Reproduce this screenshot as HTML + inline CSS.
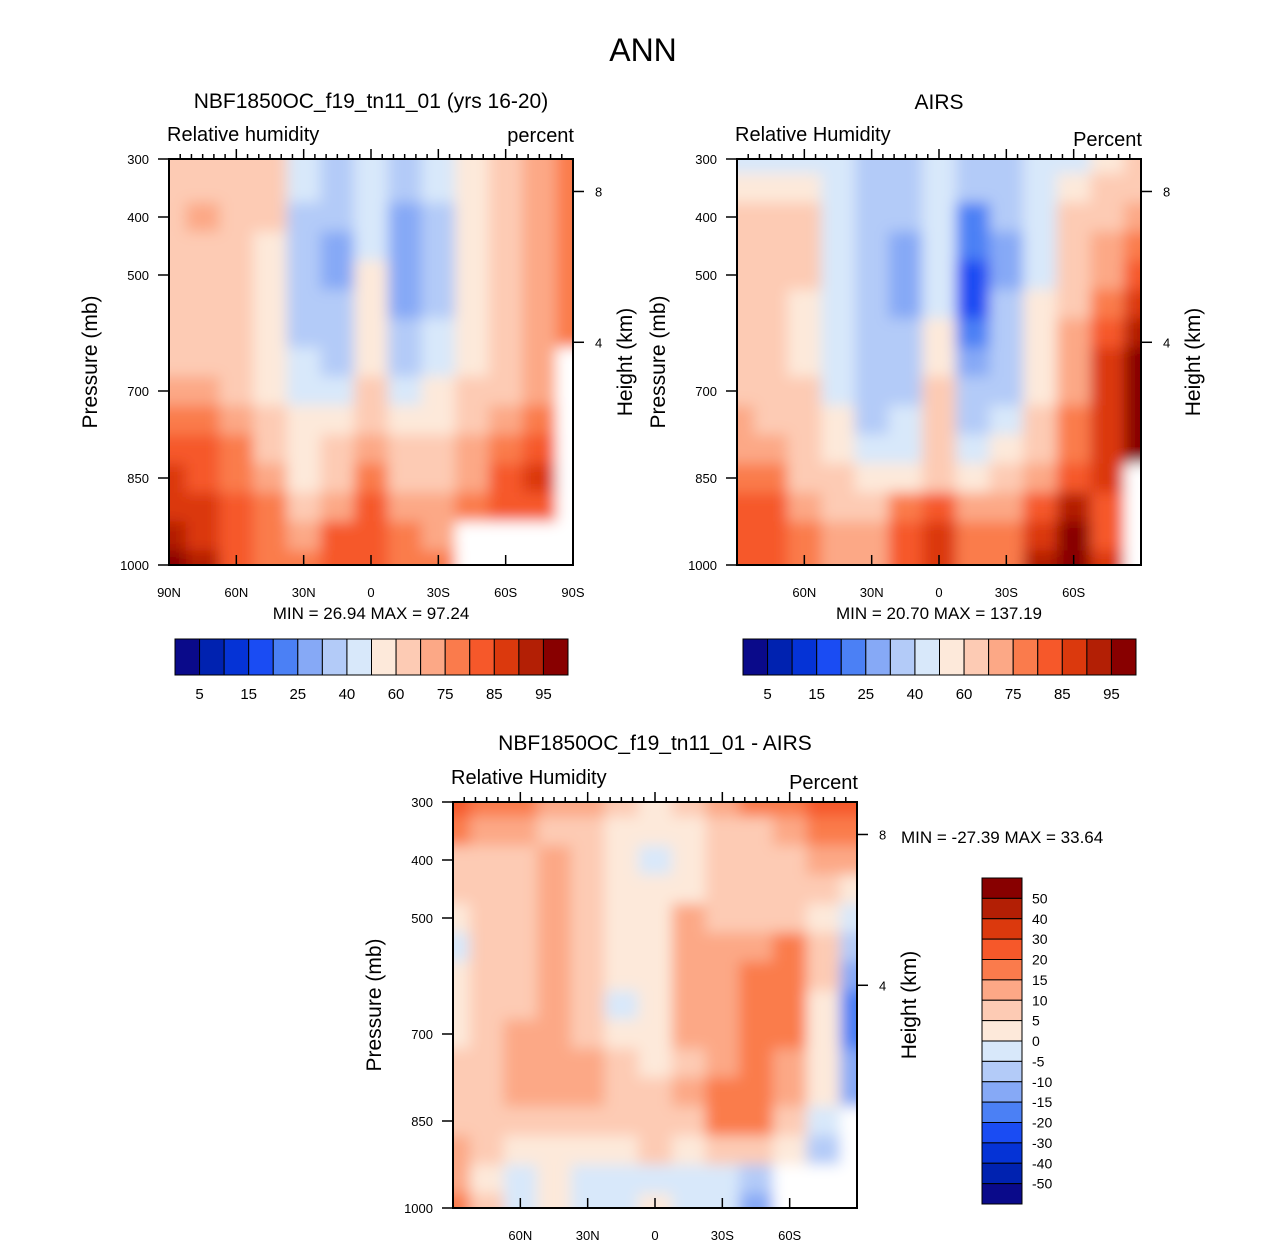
<!DOCTYPE html>
<html><head><meta charset="utf-8"><style>
body{margin:0;background:#fff;}
svg text{font-family:"Liberation Sans",Arial,sans-serif;fill:#000;}
</style></head><body>
<svg id="s" width="1285" height="1247" viewBox="0 0 1285 1247" xmlns="http://www.w3.org/2000/svg">
<defs><filter id="bl" x="-5%" y="-5%" width="110%" height="110%"><feGaussianBlur stdDeviation="7"/></filter></defs>
</svg>
<script>
const lats=[90,75,60,45,30,15,0,-15,-30,-45,-60,-75,-90];
const pressures=[300,350,400,450,500,550,600,650,700,750,800,850,900,950,1000];
const N=NaN;
const modelRH=[
[66,66,64,62,45,38,42,38,45,55,65,72,78],
[66,68,64,62,40,32,42,30,40,55,65,72,78],
[66,72,64,60,38,30,45,28,38,55,65,72,78],
[64,66,63,58,35,28,45,25,38,55,65,72,78],
[64,64,63,58,35,27,50,25,38,55,65,72,78],
[65,64,63,58,35,30,55,28,38,58,65,70,78],
[66,65,63,58,38,32,58,30,40,58,65,70,76],
[68,66,63,56,40,38,58,35,45,58,65,72,N],
[72,72,66,58,45,45,60,45,50,60,68,74,N],
[78,78,72,60,50,55,62,55,55,63,73,78,N],
[82,80,76,66,56,62,70,60,60,70,78,84,N],
[86,84,78,70,58,66,76,66,66,72,82,86,N],
[88,86,80,76,64,74,80,72,70,76,84,80,N],
[92,88,82,78,72,80,84,76,74,N,N,N,N],
[95,90,84,78,75,80,84,78,76,N,N,N,N]];
const airsRH=[
[45,45,42,40,35,38,45,35,38,45,45,55,60],
[58,55,50,45,35,35,42,30,32,42,55,62,65],
[64,64,60,45,35,30,42,22,30,42,60,65,70],
[64,64,60,45,30,25,42,20,28,42,60,70,75],
[64,64,60,45,30,25,45,18,28,45,65,72,80],
[64,62,58,42,30,28,48,18,30,50,68,78,85],
[64,62,58,42,30,30,55,22,32,55,70,80,90],
[64,62,58,42,32,35,58,28,35,58,72,85,95],
[66,64,60,45,35,38,60,32,38,58,72,88,95],
[70,68,62,50,38,42,60,38,45,62,75,88,95],
[74,72,64,56,45,48,62,45,52,65,78,88,95],
[78,76,68,62,56,58,66,56,60,70,84,85,N],
[82,80,74,68,66,76,84,70,70,84,92,80,N],
[84,84,76,72,70,84,88,76,76,88,100,80,N],
[84,84,78,74,74,84,88,76,78,90,100,85,N]];
const diffRH=[
[22,18,15,12,10,5,3,5,10,15,18,22,22],
[15,12,10,8,5,2,2,3,5,8,10,15,15],
[8,8,8,10,5,2,-3,3,5,8,8,10,10],
[5,8,8,12,8,3,2,3,5,8,5,5,3],
[2,5,8,12,8,3,3,10,8,8,5,3,-5],
[-3,5,8,12,8,3,2,10,10,12,15,5,-10],
[0,5,8,12,8,3,1,10,12,15,18,5,-15],
[2,5,8,12,8,-3,1,10,12,15,15,3,-20],
[3,5,10,12,8,3,1,10,12,15,15,3,-20],
[5,5,10,12,10,5,3,8,12,15,12,0,-15],
[8,5,10,10,10,8,8,10,18,18,10,0,-15],
[8,5,8,8,8,8,8,5,15,18,8,-5,N],
[10,5,3,3,3,3,5,3,5,5,3,-10,N],
[12,3,-3,2,-3,-3,-3,-3,-3,-10,N,N,N],
[15,5,-3,2,-5,-3,0,-3,-5,-15,N,N,N]];
const rhLevels=[5,10,15,20,25,30,40,50,60,70,75,80,85,90,95];
const diffLevels=[-50,-40,-30,-20,-15,-10,-5,0,5,10,15,20,30,40,50];
const rhLabels=["5","15","25","40","60","75","85","95"];
const pTicks=[300,400,500,700,850,1000];
const hTicks=[8,4];
const hTickP=[356,616];
const colors=["#0a0a8a","#0022b0","#0533d6","#1a4cf3","#4b80f5","#86a9f6","#b3cbf8","#d8e8fa","#fde9da","#fdcbb4","#fca886","#fa7b4c","#f6582a","#db390d","#b31f05","#880000"];
const svg=document.getElementById('s');
const NS="http://www.w3.org/2000/svg";
function mk(tag,attrs,parent){const e=document.createElementNS(NS,tag);for(const k in attrs)e.setAttribute(k,attrs[k]);(parent||svg).appendChild(e);return e;}
function txt(x,y,s,size,anchor,rot,name){const t=mk('text',{x:x,y:y,'font-size':size,'text-anchor':anchor||'middle'});if(rot)t.setAttribute('transform','rotate(-90 '+x+' '+y+')');t.textContent=s;


return t;}
function colorFor(v,levels){let i=0;while(i<levels.length&&v>=levels[i])i++;return colors[i];}
let pid=0;
function panel(o){
 const x0=o.x,y0=o.y,W=404,H=406;
 const xs=lat=>x0+(90-lat)/180*W;
 const ys=p=>y0+(p-300)/700*H;
 pid++;
 const cp=mk('clipPath',{id:'cp'+pid},svg.querySelector('defs'));
 mk('rect',{x:x0,y:y0,width:W,height:H},cp);
 const outer=mk('g',{'clip-path':'url(#cp'+pid+')'});
 const g=mk('g',{filter:'url(#bl)'},outer);
 
 
 for(let r=0;r<pressures.length;r++)for(let c=0;c<lats.length;c++){
  const v=o.data[r][c];
  let fill=isNaN(v)?'#ffffff':colorFor(v,o.levels);
  // extend edge cells outward so blur doesn't fade at frame
  let xa=xs(lats[c]+7.5),xb=xs(lats[c]-7.5),ya=ys(pressures[r]-25),yb=ys(pressures[r]+25);
  if(c==0)xa-=20;if(c==lats.length-1)xb+=20;if(r==0)ya-=20;if(r==pressures.length-1)yb+=20;
  const rc=mk('rect',{x:xa,y:ya,width:xb-xa+0.6,height:yb-ya+0.6,fill:fill},g);
  
  
 }
 const fr=mk('rect',{x:x0,y:y0,width:W,height:H,fill:'none',stroke:'#000','stroke-width':2});
 
 
 pTicks.forEach(p=>{mk('line',{x1:x0-11,x2:x0,y1:ys(p),y2:ys(p),stroke:'#000','stroke-width':1.5});txt(x0-20,ys(p)+5,String(p),13,'end',false,'y-tick-label');});
 for(let l=-85;l<=85;l+=5){const big=l%30==0;mk('line',{x1:xs(l),x2:xs(l),y1:y0,y2:y0-(big?10:5),stroke:'#000','stroke-width':1.5});
  if(big)mk('line',{x1:xs(l),x2:xs(l),y1:y0+H,y2:y0+H-10,stroke:'#000','stroke-width':1.5});}
 const xl=o.fullX?[90,60,30,0,-30,-60,-90]:[60,30,0,-30,-60];
 xl.forEach(l=>txt(xs(l),y0+H+32,l==0?'0':Math.abs(l)+(l>0?'N':'S'),13,'middle',false,'x-tick-label'));
 hTicks.forEach((h,i)=>{const y=ys(hTickP[i]);mk('line',{x1:x0+W,x2:x0+W+11,y1:y,y2:y,stroke:'#000','stroke-width':1.5});txt(x0+W+22,y+5,String(h),13,'start',false,'height-tick-label');});
 txt(o.pLabX,y0+H/2,'Pressure (mb)',21,'middle',true,'y-axis-title');
 txt(x0+W+59,y0+H/2,'Height (km)',21,'middle',true,'right-axis-title');
 txt(x0+W/2,o.titleY,o.title,21,'middle',false,'panel-title');
 txt(x0-2,y0-18,'Relative '+o.hum,20,'start',false,'variable-label');
 txt(x0+W+1,o.unitY,o.unit,20,'end',false,'units-label');
}
txt(643,61,'ANN',32,'middle',false,'main-title');
panel({x:169,y:159,data:modelRH,levels:rhLevels,name:'model',fullX:true,pLabX:97,title:'NBF1850OC_f19_tn11_01 (yrs 16-20)',titleY:108,hum:'humidity',unit:'percent',unitY:142});
panel({x:737,y:159,data:airsRH,levels:rhLevels,name:'airs',fullX:false,pLabX:665,title:'AIRS',titleY:109,hum:'Humidity',unit:'Percent',unitY:146});
panel({x:453,y:802,data:diffRH,levels:diffLevels,name:'diff',fullX:false,pLabX:381,title:'NBF1850OC_f19_tn11_01 - AIRS',titleY:750,hum:'Humidity',unit:'Percent',unitY:789});
txt(371,619,'MIN =  26.94   MAX =  97.24',17,'middle',false,'model-min-max');
txt(939,619,'MIN =  20.70   MAX = 137.19',17,'middle',false,'airs-min-max');
txt(901,843,'MIN = -27.39   MAX =  33.64',17,'start',false,'diff-min-max');
function hbar(x0,name){const w=393/16;for(let i=0;i<16;i++){const r=mk('rect',{x:x0+i*w,y:639,width:w,height:36,fill:colors[i],stroke:'#000','stroke-width':1});

}
 rhLabels.forEach((s,i)=>txt(x0+(2*i+1)*w,699,s,15,'middle',false,'colorbar-label'));}
hbar(175,'model');hbar(743,'airs');
(function(){const h=326/16,x=982;for(let i=0;i<16;i++){const r=mk('rect',{x:x,y:878+i*h,width:40,height:h,fill:colors[15-i],stroke:'#000','stroke-width':1});

}
 const lv=diffLevels.slice().reverse();lv.forEach((v,i)=>txt(1032,878+(i+1)*h+5,String(v),14,'start',false,'colorbar-label'));})();
</script>
</body></html>
